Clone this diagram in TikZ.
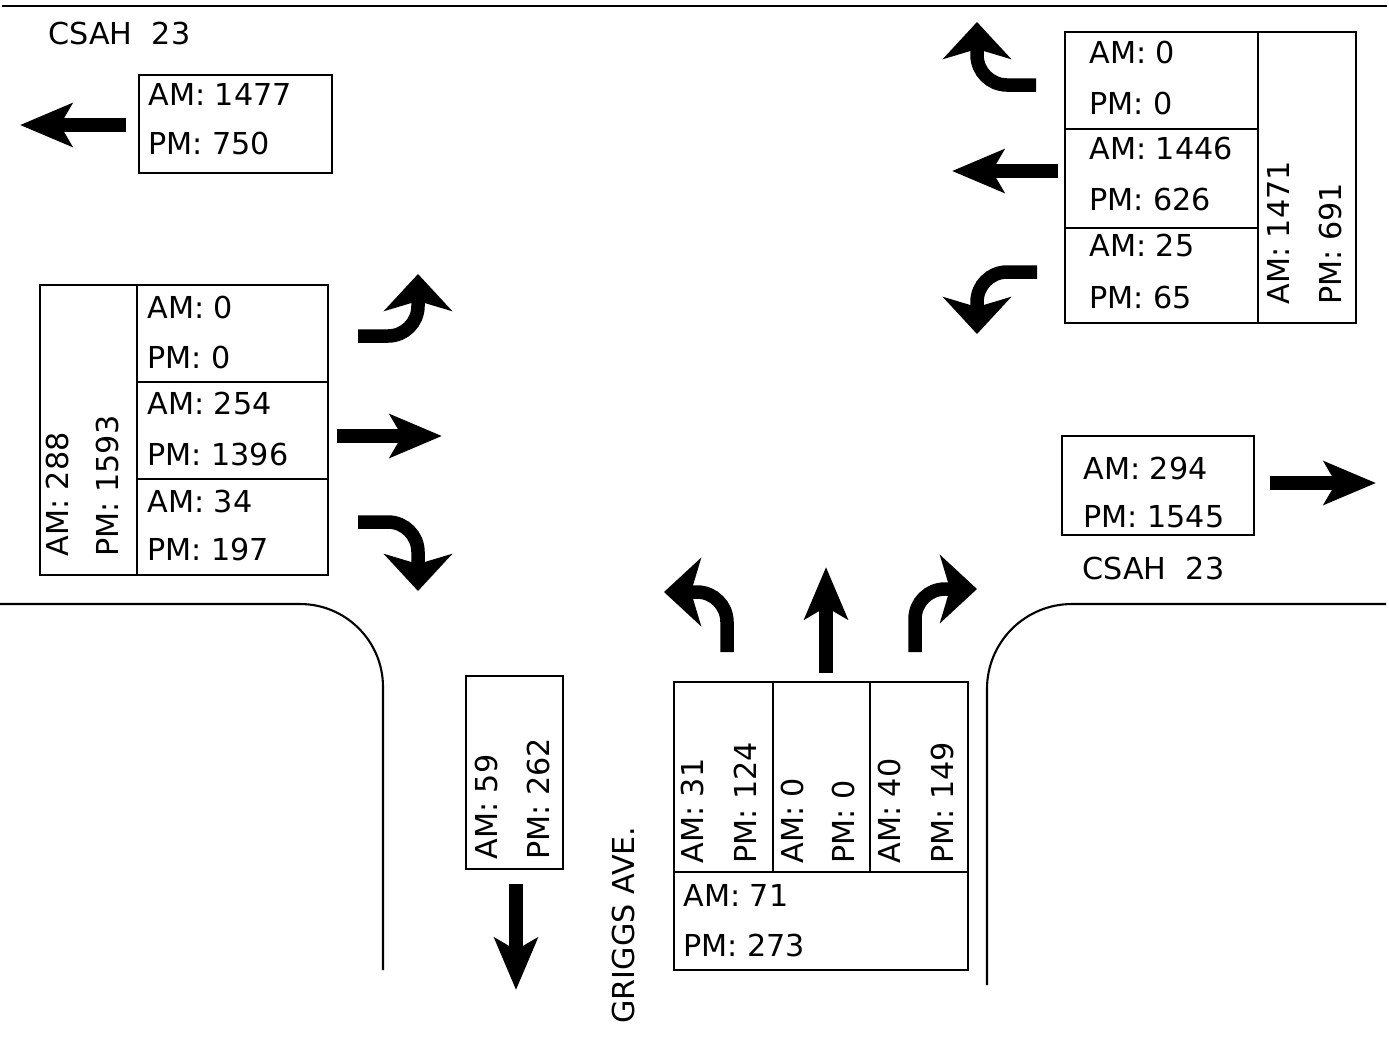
\documentclass[tikz,border=0pt]{standalone}
\usepackage{fontspec}
\setmainfont{DejaVu Sans}
\usetikzlibrary{arrows.meta}
\begin{document}
\begin{tikzpicture}[x=0.02cm,y=-0.02cm,
  box/.style={line width=1pt},
  road/.style={line width=1.2pt},
  lab/.style={font=\fontsize{17.2}{20}\selectfont, inner sep=0pt, anchor=west},
  rlab/.style={lab, rotate=90},
  thru/.style={line width=0.27cm, -{Stealth[length=1.04cm,width=0.86cm,inset=0.24cm]}},
  turn/.style={line width=0.27cm, rounded corners=0.6cm, -{Stealth[length=0.74cm,width=1.36cm,inset=0.2cm]}},
]
\useasboundingbox (0,0) rectangle (1389,1036);

% roads
\draw[road] (2,6) -- (1387,6);
\draw[road, rounded corners=1.66cm] (0,604) -- (383,604) -- (383,970);
\draw[road, rounded corners=1.7cm] (1386,604) -- (987,604) -- (987,985);

% top-left
\node[lab] (csahw) at (48,33) {CSAH\ \ 23};
\draw[box] (139,75) rectangle (332,173);
\node[lab] (wbam) at (148,94) {AM: 1477};
\node[lab] (wbpm) at (148,143.5) {PM: 750};
\coordinate (wa1) at (126,125); \coordinate (wa2) at (20,125);
\draw[thru] (wa1) -- (wa2);

% left box (eastbound approach)
\draw[box] (40,285) rectangle (328,575);
\draw[box] (137,285) -- (137,575);
\draw[box] (137,382) -- (328,382);
\draw[box] (137,479) -- (328,479);
\node[lab] (e1) at (147,307) {AM: 0};
\node[lab] (e2) at (147,357) {PM: 0};
\node[lab] (e3) at (147,403) {AM: 254};
\node[lab] (e4) at (147,454) {PM: 1396};
\node[lab] (e5) at (147,501) {AM: 34};
\node[lab] (e6) at (147,549) {PM: 197};
\node[rlab] (e7) at (57,557) {AM: 288};
\node[rlab] (e8) at (107.5,557) {PM: 1593};
\coordinate (ea1) at (358,336); \coordinate (ea2) at (418,336); \coordinate (ea3) at (418,274);
\draw[turn] (ea1) -- (ea2) -- (ea3);
\coordinate (eb1) at (337,436); \coordinate (eb2) at (442,436);
\draw[thru] (eb1) -- (eb2);
\coordinate (ec1) at (358,522); \coordinate (ec2) at (418,522); \coordinate (ec3) at (418,591);
\draw[turn] (ec1) -- (ec2) -- (ec3);

% top-right box (westbound approach)
\draw[box] (1065,32) rectangle (1356,323);
\draw[box] (1258,32) -- (1258,323);
\draw[box] (1065,129) -- (1258,129);
\draw[box] (1065,228) -- (1258,228);
\node[lab] (w1) at (1089,52) {AM: 0};
\node[lab] (w2) at (1089,103) {PM: 0};
\node[lab] (w3) at (1089,148) {AM: 1446};
\node[lab] (w4) at (1089,199) {PM: 626};
\node[lab] (w5) at (1089,245) {AM: 25};
\node[lab] (w6) at (1089,297) {PM: 65};
\node[rlab] (w7) at (1278,305) {AM: 1471};
\node[rlab] (w8) at (1330,305) {PM: 691};
\coordinate (wt1) at (1036,85); \coordinate (wt2) at (977,85); \coordinate (wt3) at (977,22);
\draw[turn] (wt1) -- (wt2) -- (wt3);
\coordinate (wm1) at (1058,171); \coordinate (wm2) at (952,171);
\draw[thru] (wm1) -- (wm2);
\coordinate (wd1) at (1037,272); \coordinate (wd2) at (977,272); \coordinate (wd3) at (977,334);
\draw[turn] (wd1) -- (wd2) -- (wd3);

% right box (eastbound departure)
\draw[box] (1062,436) rectangle (1254,535);
\node[lab] (ebam) at (1083,468) {AM: 294};
\node[lab] (ebpm) at (1083,517) {PM: 1545};
\node[lab] (csahe) at (1082,568) {CSAH\ \ 23};
\coordinate (ra1) at (1270,483); \coordinate (ra2) at (1376,483);
\draw[thru] (ra1) -- (ra2);

% southbound departure
\draw[box] (466,676) rectangle (563,869);
\node[rlab] (sbam) at (486,860) {AM: 59};
\node[rlab] (sbpm) at (538,860) {PM: 262};
\coordinate (sa1) at (516,884); \coordinate (sa2) at (516,990);
\draw[thru] (sa1) -- (sa2);
\node[rlab] (griggs) at (623,1024) {GRIGGS AVE.};

% bottom box (northbound approach)
\draw[box] (674,682) rectangle (968,970);
\draw[box] (674,872) -- (968,872);
\draw[box] (773,682) -- (773,872);
\draw[box] (870,682) -- (870,872);
\node[rlab] (n1) at (692,864) {AM: 31};
\node[rlab] (n2) at (745,864) {PM: 124};
\node[rlab] (n3) at (792,864) {AM: 0};
\node[rlab] (n4) at (843,864) {PM: 0};
\node[rlab] (n5) at (889,864) {AM: 40};
\node[rlab] (n6) at (942,864) {PM: 149};
\node[lab] (n7) at (683,895) {AM: 71};
\node[lab] (n8) at (683,945) {PM: 273};
\coordinate (nl1) at (727,652); \coordinate (nl2) at (727,592); \coordinate (nl3) at (664,592);
\draw[turn] (nl1) -- (nl2) -- (nl3);
\coordinate (nt1) at (826,673); \coordinate (nt2) at (826,567);
\draw[thru] (nt1) -- (nt2);
\coordinate (nr1) at (915,652); \coordinate (nr2) at (915,589); \coordinate (nr3) at (977,589);
\draw[turn] (nr1) -- (nr2) -- (nr3);
\end{tikzpicture}
\end{document}
